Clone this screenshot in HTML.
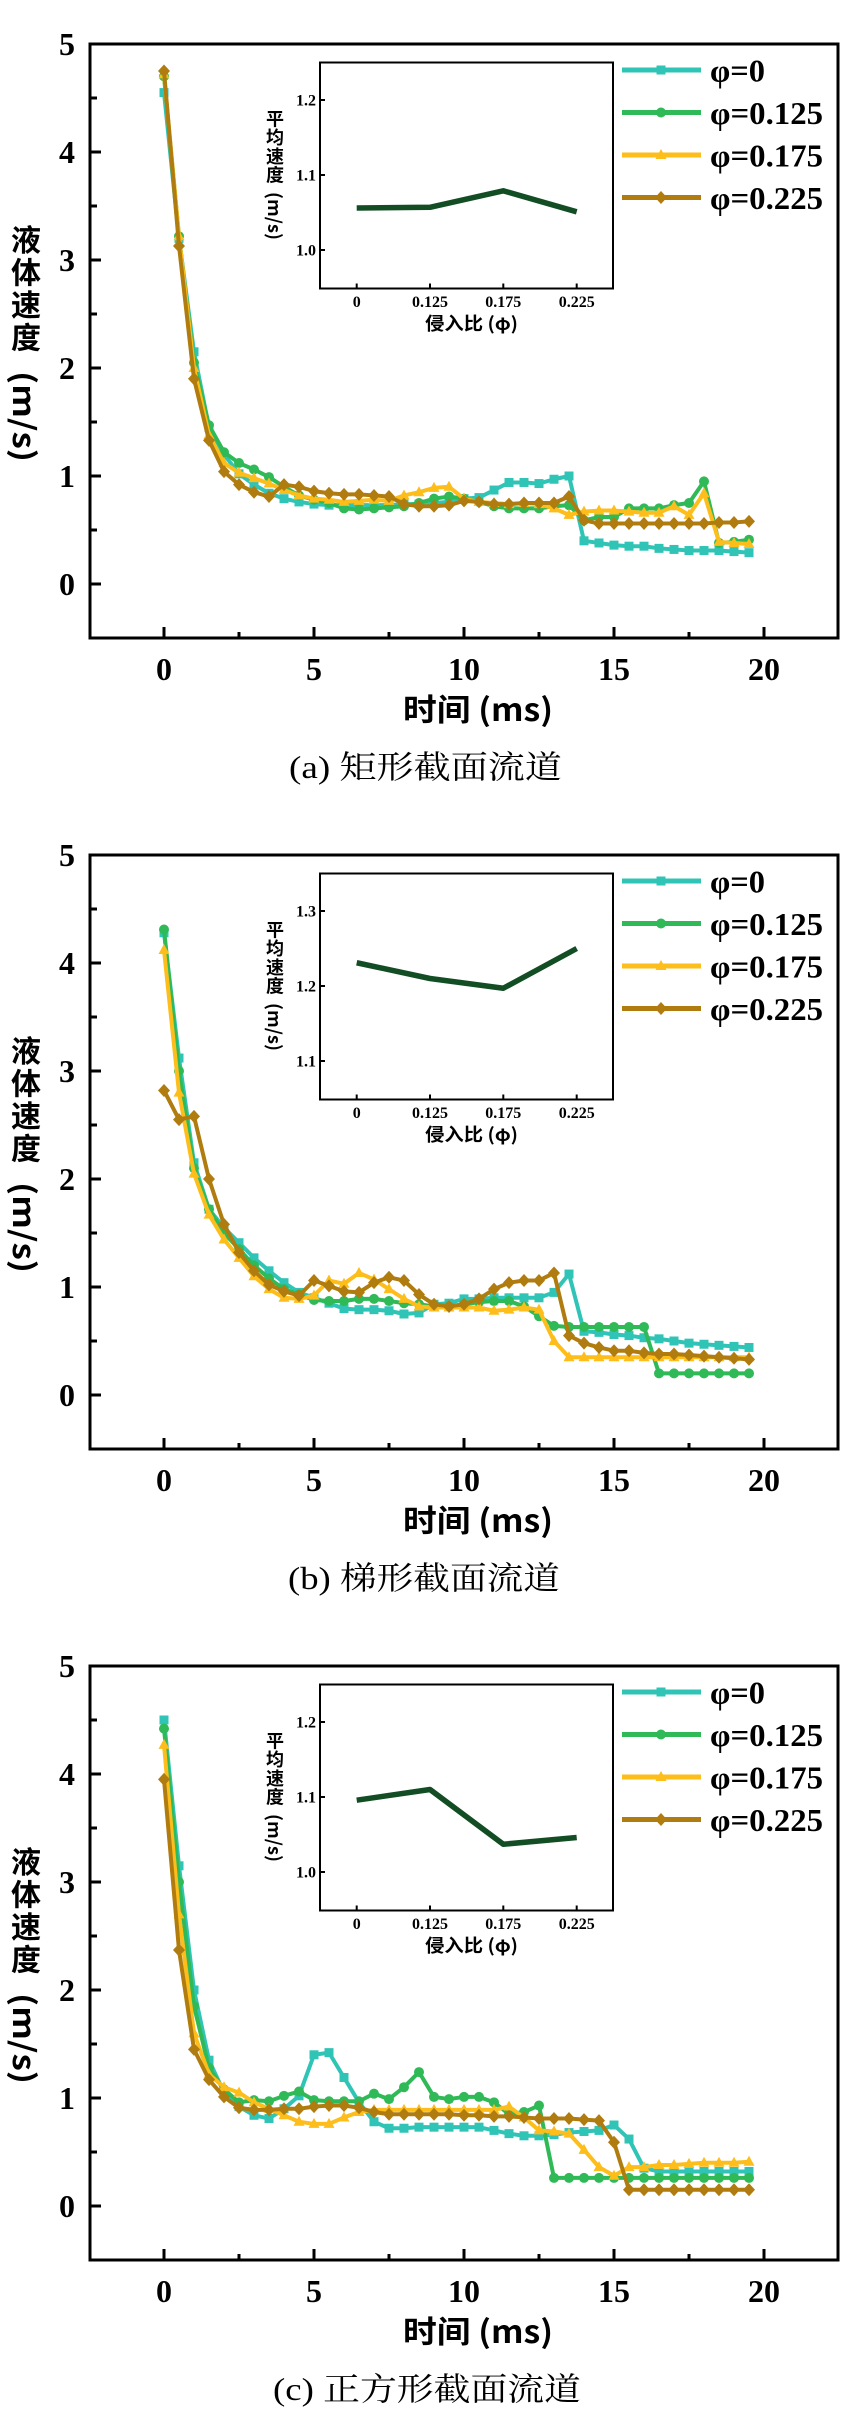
<!DOCTYPE html>
<html><head><meta charset="utf-8"><style>
html,body{margin:0;padding:0;background:#fff;}
svg{display:block;}
.num{font-family:"Liberation Serif",serif;font-weight:bold;}
.cjk{font-family:"Noto Sans CJK SC","Liberation Sans",sans-serif;font-weight:bold;}
.cap{font-family:"Liberation Serif","Noto Serif CJK SC",serif;font-weight:normal;}
</style></head><body>
<svg width="852" height="2434" viewBox="0 0 852 2434" xmlns="http://www.w3.org/2000/svg">
<defs>
<marker id="ms" markerUnits="userSpaceOnUse" markerWidth="1" markerHeight="1" refX="0" refY="0" overflow="visible"><g transform="scale(0.0333333,-0.00925926)"><rect x="-4.5" y="-4.5" width="9" height="9" fill="#30c4b6"/></g></marker>
<marker id="mc" markerUnits="userSpaceOnUse" markerWidth="1" markerHeight="1" refX="0" refY="0" overflow="visible"><g transform="scale(0.0333333,-0.00925926)"><circle r="5" fill="#2fb957"/></g></marker>
<marker id="mt" markerUnits="userSpaceOnUse" markerWidth="1" markerHeight="1" refX="0" refY="0" overflow="visible"><g transform="scale(0.0333333,-0.00925926)"><polygon points="0,-6 5.5,4 -5.5,4" fill="#fdbd1a"/></g></marker>
<marker id="md" markerUnits="userSpaceOnUse" markerWidth="1" markerHeight="1" refX="0" refY="0" overflow="visible"><g transform="scale(0.0333333,-0.00925926)"><polygon points="0,-6.5 6,0 0,6.5 -6,0" fill="#b07c0f"/></g></marker>
</defs>

<!-- ================= PANEL A ================= -->
<g>
<rect x="90" y="44" width="748" height="594" fill="none" stroke="#000" stroke-width="3"/>
<path d="M90 584h11M90 476h11M90 368h11M90 260h11M90 152h11M90 44h11M90 530h7M90 422h7M90 314h7M90 206h7M90 98h7M164 638v-11M314 638v-11M464 638v-11M614 638v-11M764 638v-11M239 638v-6M389 638v-6M539 638v-6M689 638v-6" stroke="#000" stroke-width="3" fill="none"/>
<g class="num" font-family="Liberation Serif, serif" font-weight="bold" style="font-family:'Liberation Serif',serif;font-weight:700" font-size="32" text-anchor="end">
<text x="75" y="595">0</text><text x="75" y="487">1</text><text x="75" y="379">2</text><text x="75" y="271">3</text><text x="75" y="163">4</text><text x="75" y="55">5</text>
</g>
<g class="num" font-family="Liberation Serif, serif" font-weight="bold" style="font-family:'Liberation Serif',serif;font-weight:700" font-size="32" text-anchor="middle">
<text x="164" y="680">0</text><text x="314" y="680">5</text><text x="464" y="680">10</text><text x="614" y="680">15</text><text x="764" y="680">20</text>
</g>
<g class="cjk" font-size="30" text-anchor="middle">
<text x="26" y="251">液</text><text x="26" y="283.5">体</text><text x="26" y="316">速</text><text x="26" y="348.5">度</text>
<text transform="translate(26,371) rotate(90)" x="0" y="0" text-anchor="start" dominant-baseline="central" textLength="91" lengthAdjust="spacingAndGlyphs">(m/s)</text>
</g>
<text class="cjk" x="403" y="721" font-size="31" textLength="150" lengthAdjust="spacingAndGlyphs">时间 (ms)</text>
<text class="cap" x="289" y="778" font-size="32" textLength="273" lengthAdjust="spacingAndGlyphs">(a) 矩形截面流道</text>

<g transform="translate(164,584) scale(30,-108)" fill="none" stroke-width="4" stroke-linejoin="round">
<polyline vector-effect="non-scaling-stroke" stroke="#30c4b6" marker-start="url(#ms)" marker-mid="url(#ms)" marker-end="url(#ms)" points="0,4.55 .5,3.2 1,2.15 1.5,1.45 2,1.2 2.5,1.02 3,.92 3.5,.84 4,.79 4.5,.76 5,.74 5.5,.73 6,.73 6.5,.73 7,.73 7.5,.73 8,.74 8.5,.74 9,.75 9.5,.76 10,.79 10.5,.8 11,.87 11.5,.94 12,.94 12.5,.93 13,.97 13.5,1 14,.4 14.5,.38 15,.36 15.5,.35 16,.35 16.5,.33 17,.32 17.5,.31 18,.31 18.5,.31 19,.3 19.5,.29"/>
<polyline vector-effect="non-scaling-stroke" stroke="#2fb957" marker-start="url(#mc)" marker-mid="url(#mc)" marker-end="url(#mc)" points="0,4.7 .5,3.22 1,2.05 1.5,1.47 2,1.22 2.5,1.12 3,1.06 3.5,.99 4,.9 4.5,.82 5,.78 5.5,.75 6,.7 6.5,.69 7,.7 7.5,.71 8,.72 8.5,.75 9,.79 9.5,.81 10,.79 10.5,.76 11,.72 11.5,.7 12,.7 12.5,.7 13,.72 13.5,.73 14,.59 14.5,.62 15,.62 15.5,.7 16,.7 16.5,.7 17,.73 17.5,.75 18,.95 18.5,.38 19,.39 19.5,.41"/>
<polyline vector-effect="non-scaling-stroke" stroke="#fdbd1a" marker-start="url(#mt)" marker-mid="url(#mt)" marker-end="url(#mt)" points="0,4.72 .5,3.22 1,2 1.5,1.38 2,1.12 2.5,1.03 3,.98 3.5,.93 4,.87 4.5,.82 5,.79 5.5,.78 6,.76 6.5,.77 7,.78 7.5,.77 8,.82 8.5,.85 9,.89 9.5,.9 10,.79 10.5,.76 11,.75 11.5,.74 12,.75 12.5,.74 13,.7 13.5,.64 14,.67 14.5,.68 15,.68 15.5,.67 16,.66 16.5,.66 17,.72 17.5,.64 18,.84 18.5,.39 19,.38 19.5,.37"/>
<polyline vector-effect="non-scaling-stroke" stroke="#b07c0f" marker-start="url(#md)" marker-mid="url(#md)" marker-end="url(#md)" points="0,4.75 .5,3.13 1,1.9 1.5,1.33 2,1.04 2.5,.92 3,.85 3.5,.81 4,.92 4.5,.9 5,.86 5.5,.84 6,.83 6.5,.83 7,.82 7.5,.81 8,.74 8.5,.72 9,.72 9.5,.73 10,.77 10.5,.76 11,.74 11.5,.74 12,.75 12.5,.75 13,.75 13.5,.81 14,.59 14.5,.56 15,.56 15.5,.56 16,.56 16.5,.56 17,.56 17.5,.56 18,.56 18.5,.57 19,.57 19.5,.58"/>
</g>

<rect x="320" y="62.5" width="293" height="226" fill="#fff" stroke="#000" stroke-width="2"/>
<path d="M320 100h5M320 175h5M320 250h5M356.7 288.5v-5M430 288.5v-5M503.3 288.5v-5M576.7 288.5v-5" stroke="#000" stroke-width="2"/>
<g class="num" font-family="Liberation Serif, serif" font-weight="bold" style="font-family:'Liberation Serif',serif;font-weight:700" font-size="16" text-anchor="end"><text x="316" y="105.5">1.2</text><text x="316" y="180.5">1.1</text><text x="316" y="255.5">1.0</text></g>
<g class="num" font-family="Liberation Serif, serif" font-weight="bold" style="font-family:'Liberation Serif',serif;font-weight:700" font-size="16" text-anchor="middle"><text x="356.7" y="307">0</text><text x="430" y="307">0.125</text><text x="503.3" y="307">0.175</text><text x="576.7" y="307">0.225</text></g>
<polyline points="356.7,208 430,207.3 503.3,190.8 576.7,211.8" fill="none" stroke="#124d24" stroke-width="5.5" stroke-linejoin="round"/>
<g class="cjk" font-size="18" text-anchor="middle">
<text x="275" y="125.5">平</text><text x="275" y="144">均</text><text x="275" y="163">速</text><text x="275" y="181.5">度</text>
<text transform="translate(275,192) rotate(90)" x="0" y="0" text-anchor="start" dominant-baseline="central" textLength="48" lengthAdjust="spacingAndGlyphs">(m/s)</text>
</g>
<text class="cjk" x="425" y="330" font-size="18" textLength="93" lengthAdjust="spacingAndGlyphs">侵入比 (φ)</text>

<g stroke-width="5">
<line x1="622" y1="70" x2="701" y2="70" stroke="#30c4b6"/><rect x="656.5" y="65.5" width="9" height="9" fill="#30c4b6"/>
<line x1="622" y1="112.5" x2="701" y2="112.5" stroke="#2fb957"/><circle cx="661" cy="112.5" r="5" fill="#2fb957"/>
<line x1="622" y1="155" x2="701" y2="155" stroke="#fdbd1a"/><polygon points="661,149 666.5,159 655.5,159" fill="#fdbd1a"/>
<line x1="622" y1="197.5" x2="701" y2="197.5" stroke="#b07c0f"/><polygon points="661,191 667,197.5 661,204 655,197.5" fill="#b07c0f"/>
</g>
<g class="num" font-family="Liberation Serif, serif" font-weight="bold" style="font-family:'Liberation Serif',serif;font-weight:700" font-size="32">
<text x="710" y="81.5" textLength="55" lengthAdjust="spacingAndGlyphs">φ=0</text>
<text x="710" y="124" textLength="113" lengthAdjust="spacingAndGlyphs">φ=0.125</text>
<text x="710" y="166.5" textLength="113" lengthAdjust="spacingAndGlyphs">φ=0.175</text>
<text x="710" y="209" textLength="113" lengthAdjust="spacingAndGlyphs">φ=0.225</text>
</g>
</g>

<!-- ================= PANEL B ================= -->
<g transform="translate(0,811)">
<rect x="90" y="44" width="748" height="594" fill="none" stroke="#000" stroke-width="3"/>
<path d="M90 584h11M90 476h11M90 368h11M90 260h11M90 152h11M90 44h11M90 530h7M90 422h7M90 314h7M90 206h7M90 98h7M164 638v-11M314 638v-11M464 638v-11M614 638v-11M764 638v-11M239 638v-6M389 638v-6M539 638v-6M689 638v-6" stroke="#000" stroke-width="3" fill="none"/>
<g class="num" font-family="Liberation Serif, serif" font-weight="bold" style="font-family:'Liberation Serif',serif;font-weight:700" font-size="32" text-anchor="end">
<text x="75" y="595">0</text><text x="75" y="487">1</text><text x="75" y="379">2</text><text x="75" y="271">3</text><text x="75" y="163">4</text><text x="75" y="55">5</text>
</g>
<g class="num" font-family="Liberation Serif, serif" font-weight="bold" style="font-family:'Liberation Serif',serif;font-weight:700" font-size="32" text-anchor="middle">
<text x="164" y="680">0</text><text x="314" y="680">5</text><text x="464" y="680">10</text><text x="614" y="680">15</text><text x="764" y="680">20</text>
</g>
<g class="cjk" font-size="30" text-anchor="middle">
<text x="26" y="251">液</text><text x="26" y="283.5">体</text><text x="26" y="316">速</text><text x="26" y="348.5">度</text>
<text transform="translate(26,371) rotate(90)" x="0" y="0" text-anchor="start" dominant-baseline="central" textLength="91" lengthAdjust="spacingAndGlyphs">(m/s)</text>
</g>
<text class="cjk" x="403" y="721" font-size="31" textLength="150" lengthAdjust="spacingAndGlyphs">时间 (ms)</text>
<text class="cap" x="288" y="778" font-size="32" textLength="272" lengthAdjust="spacingAndGlyphs">(b) 梯形截面流道</text>

<g transform="translate(164,584) scale(30,-108)" fill="none" stroke-width="4" stroke-linejoin="round">
<polyline vector-effect="non-scaling-stroke" stroke="#30c4b6" marker-start="url(#ms)" marker-mid="url(#ms)" marker-end="url(#ms)" points="0,4.28 .5,3.12 1,2.15 1.5,1.72 2,1.55 2.5,1.41 3,1.27 3.5,1.15 4,1.04 4.5,.95 5,.9 5.5,.85 6,.8 6.5,.79 7,.79 7.5,.78 8,.75 8.5,.76 9,.84 9.5,.85 10,.89 10.5,.89 11,.9 11.5,.9 12,.9 12.5,.9 13,.95 13.5,1.12 14,.59 14.5,.58 15,.56 15.5,.55 16,.53 16.5,.52 17,.5 17.5,.48 18,.47 18.5,.46 19,.45 19.5,.44"/>
<polyline vector-effect="non-scaling-stroke" stroke="#2fb957" marker-start="url(#mc)" marker-mid="url(#mc)" marker-end="url(#mc)" points="0,4.31 .5,3 1,2.1 1.5,1.72 2,1.5 2.5,1.35 3,1.2 3.5,1.08 4,.98 4.5,.93 5,.88 5.5,.87 6,.87 6.5,.89 7,.89 7.5,.87 8,.85 8.5,.84 9,.82 9.5,.82 10,.84 10.5,.86 11,.87 11.5,.87 12,.82 12.5,.73 13,.64 13.5,.63 14,.63 14.5,.63 15,.63 15.5,.63 16,.63 16.5,.2 17,.2 17.5,.2 18,.2 18.5,.2 19,.2 19.5,.2"/>
<polyline vector-effect="non-scaling-stroke" stroke="#fdbd1a" marker-start="url(#mt)" marker-mid="url(#mt)" marker-end="url(#mt)" points="0,4.12 .5,2.8 1,2.05 1.5,1.67 2,1.44 2.5,1.27 3,1.1 3.5,.98 4,.9 4.5,.89 5,.92 5.5,1.06 6,1.03 6.5,1.13 7,1.07 7.5,.98 8,.89 8.5,.82 9,.81 9.5,.81 10,.81 10.5,.81 11,.78 11.5,.79 12,.81 12.5,.79 13,.5 13.5,.35 14,.35 14.5,.35 15,.35 15.5,.35 16,.35 16.5,.35 17,.35 17.5,.35 18,.35 18.5,.35 19,.35 19.5,.35"/>
<polyline vector-effect="non-scaling-stroke" stroke="#b07c0f" marker-start="url(#md)" marker-mid="url(#md)" marker-end="url(#md)" points="0,2.82 .5,2.55 1,2.58 1.5,2 2,1.58 2.5,1.32 3,1.15 3.5,1.02 4,.96 4.5,.92 5,1.06 5.5,1.01 6,.96 6.5,.95 7,1.04 7.5,1.09 8,1.06 8.5,.93 9,.84 9.5,.82 10,.84 10.5,.89 11,.98 11.5,1.04 12,1.06 12.5,1.06 13,1.13 13.5,.55 14,.48 14.5,.44 15,.41 15.5,.41 16,.39 16.5,.38 17,.38 17.5,.37 18,.36 18.5,.35 19,.34 19.5,.33"/>
</g>

<rect x="320" y="62.5" width="293" height="226" fill="#fff" stroke="#000" stroke-width="2"/>
<path d="M320 100h5M320 175h5M320 250h5M356.7 288.5v-5M430 288.5v-5M503.3 288.5v-5M576.7 288.5v-5" stroke="#000" stroke-width="2"/>
<g class="num" font-family="Liberation Serif, serif" font-weight="bold" style="font-family:'Liberation Serif',serif;font-weight:700" font-size="16" text-anchor="end"><text x="316" y="105.5">1.3</text><text x="316" y="180.5">1.2</text><text x="316" y="255.5">1.1</text></g>
<g class="num" font-family="Liberation Serif, serif" font-weight="bold" style="font-family:'Liberation Serif',serif;font-weight:700" font-size="16" text-anchor="middle"><text x="356.7" y="307">0</text><text x="430" y="307">0.125</text><text x="503.3" y="307">0.175</text><text x="576.7" y="307">0.225</text></g>
<polyline points="356.7,151.75 430,167.5 503.3,177.25 576.7,137.5" fill="none" stroke="#124d24" stroke-width="5.5" stroke-linejoin="round"/>
<g class="cjk" font-size="18" text-anchor="middle">
<text x="275" y="125.5">平</text><text x="275" y="144">均</text><text x="275" y="163">速</text><text x="275" y="181.5">度</text>
<text transform="translate(275,192) rotate(90)" x="0" y="0" text-anchor="start" dominant-baseline="central" textLength="48" lengthAdjust="spacingAndGlyphs">(m/s)</text>
</g>
<text class="cjk" x="425" y="330" font-size="18" textLength="93" lengthAdjust="spacingAndGlyphs">侵入比 (φ)</text>

<g stroke-width="5">
<line x1="622" y1="70" x2="701" y2="70" stroke="#30c4b6"/><rect x="656.5" y="65.5" width="9" height="9" fill="#30c4b6"/>
<line x1="622" y1="112.5" x2="701" y2="112.5" stroke="#2fb957"/><circle cx="661" cy="112.5" r="5" fill="#2fb957"/>
<line x1="622" y1="155" x2="701" y2="155" stroke="#fdbd1a"/><polygon points="661,149 666.5,159 655.5,159" fill="#fdbd1a"/>
<line x1="622" y1="197.5" x2="701" y2="197.5" stroke="#b07c0f"/><polygon points="661,191 667,197.5 661,204 655,197.5" fill="#b07c0f"/>
</g>
<g class="num" font-family="Liberation Serif, serif" font-weight="bold" style="font-family:'Liberation Serif',serif;font-weight:700" font-size="32">
<text x="710" y="81.5" textLength="55" lengthAdjust="spacingAndGlyphs">φ=0</text>
<text x="710" y="124" textLength="113" lengthAdjust="spacingAndGlyphs">φ=0.125</text>
<text x="710" y="166.5" textLength="113" lengthAdjust="spacingAndGlyphs">φ=0.175</text>
<text x="710" y="209" textLength="113" lengthAdjust="spacingAndGlyphs">φ=0.225</text>
</g>
</g>

<!-- ================= PANEL C ================= -->
<g transform="translate(0,1622)">
<rect x="90" y="44" width="748" height="594" fill="none" stroke="#000" stroke-width="3"/>
<path d="M90 584h11M90 476h11M90 368h11M90 260h11M90 152h11M90 44h11M90 530h7M90 422h7M90 314h7M90 206h7M90 98h7M164 638v-11M314 638v-11M464 638v-11M614 638v-11M764 638v-11M239 638v-6M389 638v-6M539 638v-6M689 638v-6" stroke="#000" stroke-width="3" fill="none"/>
<g class="num" font-family="Liberation Serif, serif" font-weight="bold" style="font-family:'Liberation Serif',serif;font-weight:700" font-size="32" text-anchor="end">
<text x="75" y="595">0</text><text x="75" y="487">1</text><text x="75" y="379">2</text><text x="75" y="271">3</text><text x="75" y="163">4</text><text x="75" y="55">5</text>
</g>
<g class="num" font-family="Liberation Serif, serif" font-weight="bold" style="font-family:'Liberation Serif',serif;font-weight:700" font-size="32" text-anchor="middle">
<text x="164" y="680">0</text><text x="314" y="680">5</text><text x="464" y="680">10</text><text x="614" y="680">15</text><text x="764" y="680">20</text>
</g>
<g class="cjk" font-size="30" text-anchor="middle">
<text x="26" y="251">液</text><text x="26" y="283.5">体</text><text x="26" y="316">速</text><text x="26" y="348.5">度</text>
<text transform="translate(26,371) rotate(90)" x="0" y="0" text-anchor="start" dominant-baseline="central" textLength="91" lengthAdjust="spacingAndGlyphs">(m/s)</text>
</g>
<text class="cjk" x="403" y="721" font-size="31" textLength="150" lengthAdjust="spacingAndGlyphs">时间 (ms)</text>
<text class="cap" x="273" y="778" font-size="32" textLength="308" lengthAdjust="spacingAndGlyphs">(c) 正方形截面流道</text>

<g transform="translate(164,584) scale(30,-108)" fill="none" stroke-width="4" stroke-linejoin="round">
<polyline vector-effect="non-scaling-stroke" stroke="#30c4b6" marker-start="url(#ms)" marker-mid="url(#ms)" marker-end="url(#ms)" points="0,4.5 .5,3.15 1,2 1.5,1.35 2,1.05 2.5,.92 3,.84 3.5,.81 4,.9 4.5,1.02 5,1.4 5.5,1.42 6,1.19 6.5,.96 7,.78 7.5,.72 8,.72 8.5,.73 9,.73 9.5,.73 10,.73 10.5,.73 11,.7 11.5,.67 12,.65 12.5,.65 13,.66 13.5,.68 14,.69 14.5,.7 15,.75 15.5,.62 16,.35 16.5,.32 17,.32 17.5,.32 18,.32 18.5,.32 19,.32 19.5,.32"/>
<polyline vector-effect="non-scaling-stroke" stroke="#2fb957" marker-start="url(#mc)" marker-mid="url(#mc)" marker-end="url(#mc)" points="0,4.42 .5,3 1,1.85 1.5,1.28 2,1.08 2.5,.96 3,.98 3.5,.97 4,1.02 4.5,1.06 5,.98 5.5,.97 6,.97 6.5,.97 7,1.04 7.5,.99 8,1.1 8.5,1.24 9,1.01 9.5,.99 10,1.01 10.5,1.01 11,.96 11.5,.85 12,.87 12.5,.93 13,.26 13.5,.26 14,.26 14.5,.26 15,.26 15.5,.26 16,.26 16.5,.26 17,.26 17.5,.26 18,.26 18.5,.26 19,.26 19.5,.26"/>
<polyline vector-effect="non-scaling-stroke" stroke="#fdbd1a" marker-start="url(#mt)" marker-mid="url(#mt)" marker-end="url(#mt)" points="0,4.27 .5,2.7 1,1.6 1.5,1.22 2,1.1 2.5,1.05 3,.96 3.5,.9 4,.84 4.5,.78 5,.76 5.5,.76 6,.82 6.5,.87 7,.89 7.5,.89 8,.89 8.5,.89 9,.89 9.5,.89 10,.89 10.5,.89 11,.89 11.5,.92 12,.82 12.5,.7 13,.69 13.5,.67 14,.52 14.5,.36 15,.28 15.5,.36 16,.36 16.5,.38 17,.38 17.5,.39 18,.4 18.5,.4 19,.4 19.5,.41"/>
<polyline vector-effect="non-scaling-stroke" stroke="#b07c0f" marker-start="url(#md)" marker-mid="url(#md)" marker-end="url(#md)" points="0,3.95 .5,2.37 1,1.45 1.5,1.17 2,1.01 2.5,.91 3,.89 3.5,.89 4,.9 4.5,.9 5,.92 5.5,.93 6,.93 6.5,.91 7,.87 7.5,.85 8,.85 8.5,.85 9,.85 9.5,.85 10,.84 10.5,.84 11,.83 11.5,.83 12,.82 12.5,.81 13,.81 13.5,.81 14,.8 14.5,.79 15,.59 15.5,.15 16,.15 16.5,.15 17,.15 17.5,.15 18,.15 18.5,.15 19,.15 19.5,.15"/>
</g>

<rect x="320" y="62.5" width="293" height="226" fill="#fff" stroke="#000" stroke-width="2"/>
<path d="M320 100h5M320 175h5M320 250h5M356.7 288.5v-5M430 288.5v-5M503.3 288.5v-5M576.7 288.5v-5" stroke="#000" stroke-width="2"/>
<g class="num" font-family="Liberation Serif, serif" font-weight="bold" style="font-family:'Liberation Serif',serif;font-weight:700" font-size="16" text-anchor="end"><text x="316" y="105.5">1.2</text><text x="316" y="180.5">1.1</text><text x="316" y="255.5">1.0</text></g>
<g class="num" font-family="Liberation Serif, serif" font-weight="bold" style="font-family:'Liberation Serif',serif;font-weight:700" font-size="16" text-anchor="middle"><text x="356.7" y="307">0</text><text x="430" y="307">0.125</text><text x="503.3" y="307">0.175</text><text x="576.7" y="307">0.225</text></g>
<polyline points="356.7,178.2 430,167.5 503.3,222.25 576.7,215.5" fill="none" stroke="#124d24" stroke-width="5.5" stroke-linejoin="round"/>
<g class="cjk" font-size="18" text-anchor="middle">
<text x="275" y="125.5">平</text><text x="275" y="144">均</text><text x="275" y="163">速</text><text x="275" y="181.5">度</text>
<text transform="translate(275,192) rotate(90)" x="0" y="0" text-anchor="start" dominant-baseline="central" textLength="48" lengthAdjust="spacingAndGlyphs">(m/s)</text>
</g>
<text class="cjk" x="425" y="330" font-size="18" textLength="93" lengthAdjust="spacingAndGlyphs">侵入比 (φ)</text>

<g stroke-width="5">
<line x1="622" y1="70" x2="701" y2="70" stroke="#30c4b6"/><rect x="656.5" y="65.5" width="9" height="9" fill="#30c4b6"/>
<line x1="622" y1="112.5" x2="701" y2="112.5" stroke="#2fb957"/><circle cx="661" cy="112.5" r="5" fill="#2fb957"/>
<line x1="622" y1="155" x2="701" y2="155" stroke="#fdbd1a"/><polygon points="661,149 666.5,159 655.5,159" fill="#fdbd1a"/>
<line x1="622" y1="197.5" x2="701" y2="197.5" stroke="#b07c0f"/><polygon points="661,191 667,197.5 661,204 655,197.5" fill="#b07c0f"/>
</g>
<g class="num" font-family="Liberation Serif, serif" font-weight="bold" style="font-family:'Liberation Serif',serif;font-weight:700" font-size="32">
<text x="710" y="81.5" textLength="55" lengthAdjust="spacingAndGlyphs">φ=0</text>
<text x="710" y="124" textLength="113" lengthAdjust="spacingAndGlyphs">φ=0.125</text>
<text x="710" y="166.5" textLength="113" lengthAdjust="spacingAndGlyphs">φ=0.175</text>
<text x="710" y="209" textLength="113" lengthAdjust="spacingAndGlyphs">φ=0.225</text>
</g>
</g>
</svg>
</body></html>
